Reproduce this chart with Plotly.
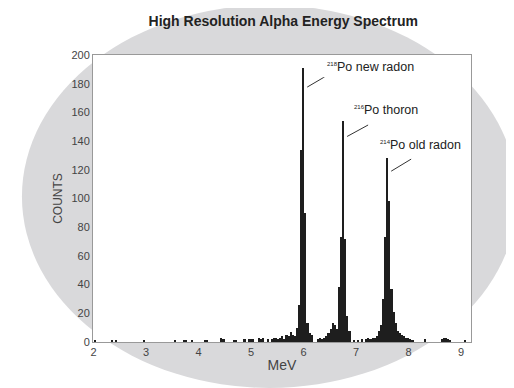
import plotly.graph_objects as go

# ---- data ----
energies = [2.04, 2.36, 2.44, 2.96, 3.56, 3.72, 3.76, 3.88, 4.12, 4.16,
            4.44, 4.48, 4.68, 4.72, 4.88, 4.96, 5.00, 5.04, 5.16, 5.20,
            5.24, 5.32, 5.40, 5.44, 5.48, 5.52, 5.56, 5.60, 5.64, 5.68,
            5.72, 5.76, 5.80, 5.84, 5.88, 5.92, 5.96, 6.00, 6.04, 6.08,
            6.12, 6.16, 6.28, 6.32, 6.36, 6.40, 6.44, 6.48, 6.52, 6.56,
            6.60, 6.64, 6.68, 6.72, 6.76, 6.80, 6.84, 6.88, 6.96, 7.04,
            7.12, 7.20, 7.24, 7.28, 7.32, 7.36, 7.40, 7.44, 7.48, 7.52,
            7.56, 7.60, 7.64, 7.68, 7.72, 7.76, 7.80, 7.84, 7.88, 7.92,
            7.96, 8.00, 8.04, 8.08, 8.32, 8.64, 8.68, 8.72, 8.76, 8.80,
            9.08]
counts = [1, 1, 1, 1, 1, 1, 1, 1, 1, 1,
          3, 2, 1, 1, 2, 2, 2, 2, 3, 2,
          3, 2, 2, 3, 3, 2, 3, 4, 2, 5,
          4, 7, 5, 4, 10, 26, 134, 191, 90, 13,
          6, 5, 2, 3, 2, 3, 4, 6, 9, 13,
          12, 9, 38, 73, 154, 72, 18, 8, 1, 1,
          2, 2, 3, 2, 3, 3, 4, 8, 12, 30,
          73, 128, 98, 37, 21, 13, 8, 6, 5, 4,
          3, 3, 2, 1, 2, 2, 3, 3, 2, 1,
          1]

peak_labels = ["<sup><span style='font-size:6px'>218</span></sup>Po new radon",
               "<sup><span style='font-size:6px'>216</span></sup>Po thoron",
               "<sup><span style='font-size:6px'>214</span></sup>Po old radon"]
peak_energies = [6.00, 6.76, 7.60]
peak_counts = [191, 154, 128]

x_ticks = [2, 3, 4, 5, 6, 7, 8, 9]
y_ticks = [0, 20, 40, 60, 80, 100, 120, 140, 160, 180, 200]

FONT = "Liberation Sans, Arial, sans-serif"

fig = go.Figure()
fig.add_trace(go.Bar(x=energies, y=counts, width=0.03,
                     marker=dict(color="#1e1e1e", line=dict(width=0)),
                     showlegend=False, hoverinfo="x+y"))

# grey ellipse behind the whole chart (decorative background)
fig.add_shape(type="circle", xref="paper", yref="paper",
              x0=-0.188, x1=1.122, y0=-0.16, y1=1.174,
              fillcolor="#d9d9db", line=dict(width=0), layer="below")
# white plotting area on top of the ellipse
fig.add_shape(type="rect", xref="paper", yref="paper",
              x0=0, x1=1, y0=0, y1=1,
              fillcolor="white", line=dict(width=0), layer="below")

label_offsets = [(0.38, 0.6), (0.13, 8), (-0.22, 9)]
lead_dx = [0.49, 0.40, 0.38]
lead_dy = [10.5, 8.0, 8.4]
for lab, e, c, (dx, dy), ldx, ldy in zip(peak_labels, peak_energies, peak_counts,
                                          label_offsets, lead_dx, lead_dy):
    tip_x = e + 0.07
    tip_y = c * 0.93
    # leader line
    fig.add_shape(type="line", xref="x", yref="y",
                  x0=tip_x, y0=tip_y, x1=tip_x + ldx, y1=tip_y + ldy,
                  line=dict(color="#333", width=1))
    # label text
    fig.add_annotation(x=e + dx, y=c + dy, xref="x", yref="y", text=lab,
                       showarrow=False, xanchor="left", yanchor="middle",
                       font=dict(family=FONT, size=12.5, color="#222"),
                       bgcolor="white", borderpad=3)

fig.update_layout(
    width=506, height=380,
    margin=dict(l=85, r=43, t=47, b=46),
    paper_bgcolor="white", plot_bgcolor="rgba(0,0,0,0)",
    bargap=0,
    title=dict(text="<b>High Resolution Alpha Energy Spectrum</b>",
               x=0.544, xanchor="center", y=0.965, yanchor="middle",
               font=dict(family=FONT, size=14, color="#222")),
    font=dict(family=FONT, color="#444"),
)
fig.update_xaxes(range=[1.99, 9.19], tickvals=x_ticks, showgrid=False,
                 zeroline=False, showline=True, linecolor="#999", linewidth=1,
                 mirror=True, ticks="", tickfont=dict(size=11, color="#444"),
                 title=dict(text="MeV", font=dict(size=14, color="#444"), standoff=2))
fig.update_yaxes(range=[0, 200], tickvals=y_ticks, showgrid=False,
                 zeroline=False, showline=True, linecolor="#999", linewidth=1,
                 mirror=True, ticks="", tickfont=dict(size=11, color="#444"),
                 title=dict(text="COUNTS", font=dict(size=12, color="#444"), standoff=6))

fig.write_html("out.html")
